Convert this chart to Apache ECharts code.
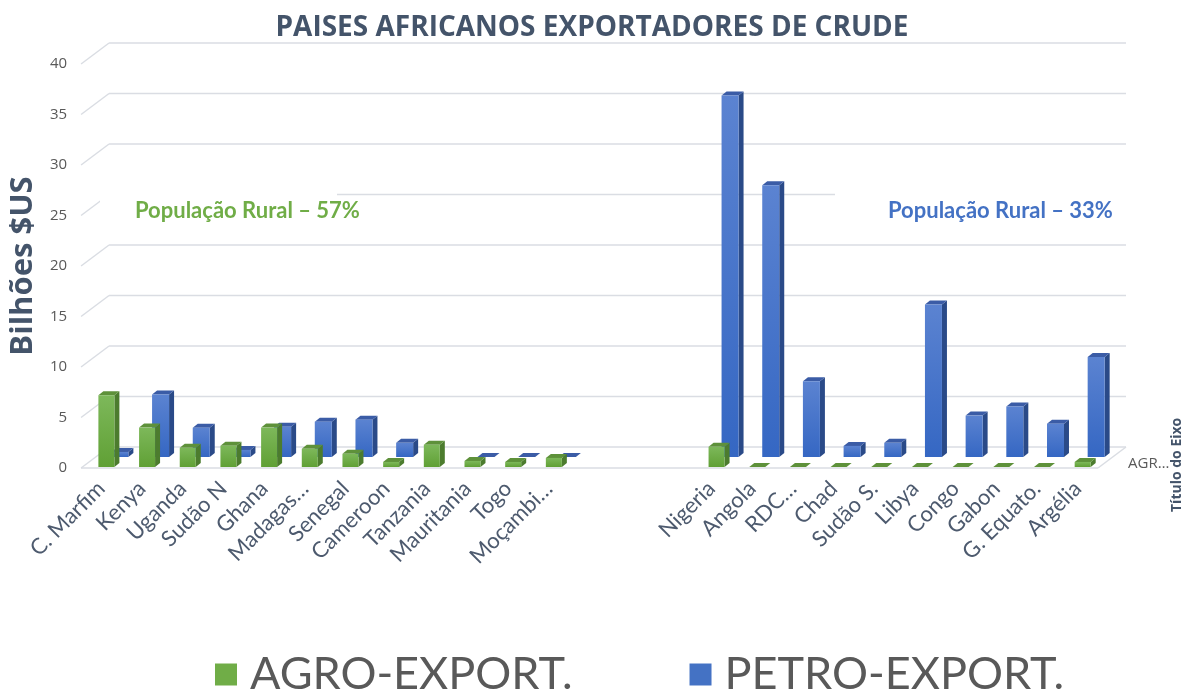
<!DOCTYPE html>
<html>
<head>
<meta charset="utf-8">
<script src="https://cdn.jsdelivr.net/npm/echarts@6/dist/echarts.min.js"></script>
<style>html,body{margin:0;padding:0;background:#fff}#c{width:1184px;height:694px}</style>
</head>
<body>
<div id="c"></div>
<script>
const categories = ['C. Marfim','Kenya','Uganda','Sudão N','Ghana','Madagas…','Senegal','Cameroon','Tanzania','Mauritania','Togo','Moçambi…','','','','Nigeria','Angola','RDC…','Chad','Sudão S.','Libya','Congo','Gabon','G. Equato.','Argélia'];
const agroExport = [7.1, 3.9, 1.9, 2.1, 3.9, 1.8, 1.3, 0.5, 2.2, 0.6, 0.5, 0.9, null, null, null, 2.0, 0, 0, 0, 0, 0, 0, 0, 0, 0.5];
const petroExport = [0.5, 6.2, 2.9, 0.7, 3.0, 3.5, 3.7, 1.4, null, 0, 0, 0, null, null, null, 35.8, 26.9, 7.5, 1.1, 1.4, 15.1, 4.1, 5.0, 3.3, 9.9];
const yTicks = [0, 5, 10, 15, 20, 25, 30, 35, 40];
const seriesNames = ['AGRO-EXPORT.', 'PETRO-EXPORT.'];

const WALL_DX = 28, WALL_DY = -21;   // depth to back wall
const BAR_DX = 5, BAR_DY = -4;       // depth of a single bar
const GRID_COLOR = '#dadde3';

const chart = echarts.init(document.getElementById('c'));

function makeBar(colors, xOff, w, rowDx, rowDy) {
  return function (params, api) {
    const i = api.value(0), v = api.value(1);
    const base = api.coord([i, 0]);
    const top = api.coord([i, v]);
    const xl = base[0] + xOff + rowDx, xr = xl + w;
    const yb = base[1] + rowDy, yt = top[1] + rowDy;
    return {
      type: 'group',
      children: [
        { type: 'polygon', shape: { points: [[xr, yt], [xr + BAR_DX, yt + BAR_DY], [xr + BAR_DX, yb + BAR_DY], [xr, yb]] },
          style: { fill: colors.side } },
        { type: 'polygon', shape: { points: [[xl, yt], [xl + BAR_DX, yt + BAR_DY], [xr + BAR_DX, yt + BAR_DY], [xr, yt]] },
          style: { fill: colors.top } },
        { type: 'rect', shape: { x: xl, y: yt, width: w, height: Math.max(yb - yt, 0) },
          style: { fill: { type: 'linear', x: 0, y: 0, x2: 0, y2: 1, colorStops: [{ offset: 0, color: colors.f1 }, { offset: 1, color: colors.f2 }] } } }
      ]
    };
  };
}

const greenCols = { f1: '#7db85a', f2: '#60a035', side: '#4c7c2e', top: '#5e913a' };
const blueCols = { f1: '#5b83d1', f2: '#3567c3', side: '#2a4a88', top: '#3b5ca6' };

const N = categories.length;

const option = {
  backgroundColor: '#ffffff',
  animation: false,
  title: {
    text: 'PAISES AFRICANOS EXPORTADORES DE CRUDE',
    left: 'center', top: 9,
    textStyle: { color: '#44546a', fontSize: 28, fontWeight: 'bold', fontFamily: 'Open Sans' }
  },
  legend: {
    data: seriesNames,
    left: 210, top: 647,
    itemWidth: 22, itemHeight: 22, itemGap: 117,
    icon: 'rect',
    textStyle: { fontSize: 45, color: '#595959', fontFamily: 'Lato', padding: [0, 0, 0, 8] }
  },
  grid: { left: 77, right: 86, top: 64, bottom: 226, containLabel: false },
  xAxis: {
    type: 'category', data: categories,
    axisLine: { show: false }, axisTick: { show: false },
    axisLabel: { interval: 0, rotate: 45, margin: 17, fontSize: 22, color: '#4d5a6e', fontFamily: 'Lato' }
  },
  yAxis: {
    type: 'value', min: 0, max: 40, interval: 5,
    name: 'Bilhões $US', nameLocation: 'middle', nameGap: 29,
    nameTextStyle: { fontSize: 31, fontWeight: 'bold', color: '#44546a', fontFamily: 'Open Sans' },
    axisLine: { show: false }, axisTick: { show: false }, splitLine: { show: false },
    axisLabel: { fontSize: 15, color: '#595959', margin: 14, fontFamily: 'Open Sans' }
  },
  graphic: [
    { type: 'rect', shape: { x: 100, y: 186, width: 237, height: 52 }, style: { fill: '#ffffff' }, z: 1 },
    { type: 'rect', shape: { x: 835, y: 186, width: 300, height: 52 }, style: { fill: '#ffffff' }, z: 1 },
    { type: 'text', left: 135, top: 200, z: 10,
      style: { text: 'População Rural – 57%', fill: '#70ad47', font: 'bold 22px Lato' } },
    { type: 'text', left: 888, top: 200, z: 10,
      style: { text: 'População Rural – 33%', fill: '#4472c4', font: 'bold 22px Lato' } },
    { type: 'text', left: 1128, top: 456, z: 10,
      style: { text: 'AGR…', fill: '#595959', font: '15px "Open Sans"' } },
    { type: 'text', x: 1170, y: 512, rotation: Math.PI / 2, z: 10,
      style: { text: 'Título do Eixo', fill: '#44546a', font: 'bold 14px "Open Sans"' } }
  ],
  series: [
    {
      type: 'custom', name: 'frame', z: 0, silent: true, clip: false,
      data: yTicks.map(v => [0, v]),
      encode: { x: 0, y: 1 },
      renderItem: function (params, api) {
        const v = api.value(1);
        const p0 = api.coord([0, v]);
        const bw = api.size([1, 0])[0];
        const xL = p0[0] - bw / 2;
        const xR = api.coord([N - 1, v])[0] + bw / 2;
        const y = p0[1];
        const st = { stroke: GRID_COLOR, lineWidth: 1.5 };
        const ch = [
          { type: 'line', shape: { x1: xL, y1: y, x2: xL + WALL_DX, y2: y + WALL_DY }, style: st },
          { type: 'line', shape: { x1: xL + WALL_DX, y1: y + WALL_DY, x2: xR + WALL_DX, y2: y + WALL_DY }, style: st }
        ];
        if (v === 0) {
          ch.push({ type: 'line', shape: { x1: xL, y1: y, x2: xR, y2: y }, style: st });
          ch.push({ type: 'line', shape: { x1: xR, y1: y, x2: xR + WALL_DX, y2: y + WALL_DY }, style: st });
        }
        return { type: 'group', children: ch };
      }
    },
    {
      type: 'custom', name: seriesNames[1], z: 2, clip: false,
      itemStyle: { color: '#4472c4' },
      data: petroExport.map((v, i) => [i, v]).filter(d => d[1] !== null),
      encode: { x: 0, y: 1 },
      renderItem: makeBar(blueCols, 10, 17, 0, -11)
    },
    {
      type: 'custom', name: seriesNames[0], z: 3, clip: false,
      itemStyle: { color: '#70ad47' },
      data: agroExport.map((v, i) => [i, v]).filter(d => d[1] !== null),
      encode: { x: 0, y: 1 },
      renderItem: makeBar(greenCols, -3, 16, 0, -1)
    }
  ]
};
chart.setOption(option);
</script>
</body>
</html>
